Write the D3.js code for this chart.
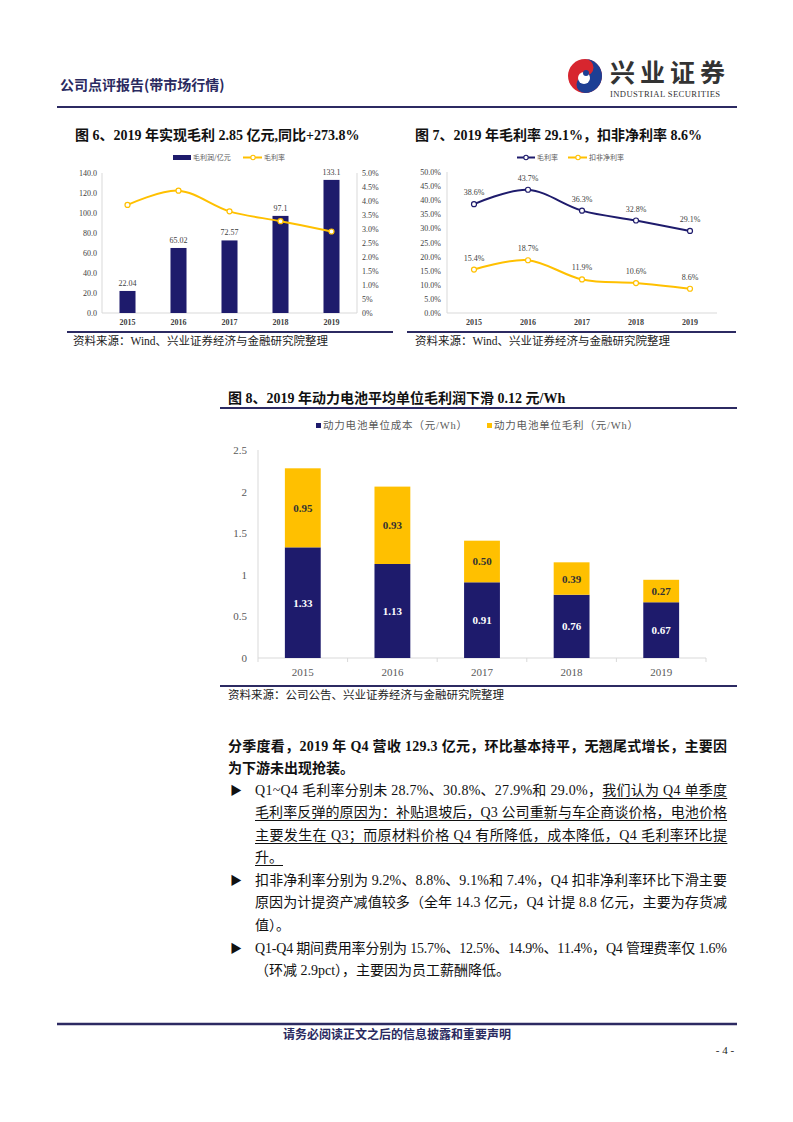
<!DOCTYPE html>
<html><head><meta charset="utf-8">
<script src="https://cdn.jsdelivr.net/npm/d3@7/dist/d3.min.js"></script>
<style>
html,body{margin:0;padding:0;background:#fff;}
#page{position:relative;width:793px;height:1122px;overflow:hidden;}
svg{position:absolute;left:0;top:0;}
.ln{position:absolute;font-family:"Liberation Serif","Noto Sans CJK SC",serif;font-size:14px;color:#111;white-space:nowrap;line-height:16px;}
.b{font-weight:bold;}
u{text-decoration:underline;text-underline-offset:3px;text-decoration-thickness:1px;}
</style></head>
<body><div id="page"></div>
<script>
// ---------- data ----------
const years = ["2015","2016","2017","2018","2019"];
const grossProfit = [22.04, 65.02, 72.57, 97.1, 133.1];
const grossProfitLabels = ["22.04","65.02","72.57","97.1","133.1"];
const fig6Rate = [3.86, 4.37, 3.63, 3.28, 2.91];
const fig6LeftTicks = [0,20,40,60,80,100,120,140];
const fig6RightTickVals = [0,0.5,1,1.5,2,2.5,3,3.5,4,4.5,5];
const fig6RightTickLabels = ["0%","5%","1.0%","1.5%","2.0%","2.5%","3.0%","3.5%","4.0%","4.5%","5.0%"];
const grossMargin = [38.6, 43.7, 36.3, 32.8, 29.1];
const netMargin = [15.4, 18.7, 11.9, 10.6, 8.6];
const fig7Ticks = [0,5,10,15,20,25,30,35,40,45,50];
const unitCost = [1.33, 1.13, 0.91, 0.76, 0.67];
const unitMargin = [0.95, 0.93, 0.50, 0.39, 0.27];
const fig8Ticks = [0,0.5,1,1.5,2,2.5];
const fig8TickLabels = ["0","0.5","1","1.5","2","2.5"];

const NAVY = "#1e1b6c", GOLD = "#ffc000", RULE = "#2c2a62", AX = "#d9d9d9", TXT = "#404040";
const SERIF = "'Liberation Serif','Noto Sans CJK SC',serif";
const CJK = "'Noto Sans CJK SC',sans-serif";

const page = d3.select("#page");
const svg = page.append("svg").attr("width",793).attr("height",1122);
svg.append("rect").attr("width",793).attr("height",1122).attr("fill","#fff");

function txt(x,y,s,o={}){
  const t = svg.append("text").attr("x",x).attr("y",y).text(s)
    .attr("font-family",o.ff||SERIF).attr("font-size",o.fs||10)
    .attr("fill",o.fill||"#222").attr("text-anchor",o.anchor||"start");
  if(o.fw) t.attr("font-weight",o.fw);
  if(o.ls) t.attr("letter-spacing",o.ls);
  return t;
}
function hline(x1,x2,y,c,w){svg.append("line").attr("x1",x1).attr("x2",x2).attr("y1",y).attr("y2",y).attr("stroke",c).attr("stroke-width",w);}
function vline(x,y1,y2,c,w){svg.append("line").attr("x1",x).attr("x2",x).attr("y1",y1).attr("y2",y2).attr("stroke",c).attr("stroke-width",w);}

// ---------- header ----------
txt(60,90,"公司点评报告(带市场行情)",{ff:CJK,fs:14,fw:"bold",fill:"#2a2a60"});
const lg = svg.append("g").attr("transform","translate(585,76)");
lg.append("circle").attr("r",17).attr("fill","#d7262f");
lg.append("path").attr("d","M0,-17 A17,17 0 0 1 0,17 A8.5,8.5 0 0 1 0,0 A8.5,8.5 0 0 0 0,-17Z").attr("fill","#1d3f94");
lg.append("circle").attr("r",6).attr("cx",-1).attr("cy",2).attr("fill","#fff");
lg.append("circle").attr("r",3).attr("cx",1).attr("cy",-3).attr("fill","#1d3f94");
txt(610,82,"兴业证券",{ff:CJK,fs:25,fw:"bold",fill:"#333",ls:5});
txt(610,97,"INDUSTRIAL SECURITIES",{fs:8.6,fill:"#333",ls:0.4});
hline(57,737,107,RULE,2);

// ---------- Figure 6 ----------
txt(75,140,"图 6、2019 年实现毛利 2.85 亿元,同比+273.8%",{fs:14,fw:"bold",fill:"#111"});
{
  const x = d3.scaleBand().domain(years).range([102,357]).paddingInner(0.686).paddingOuter(0.343);
  const yL = d3.scaleLinear().domain([0,140]).range([313,173]);
  const yR = d3.scaleLinear().domain([0,5]).range([313,173]);
  vline(102,173,313,AX,1); vline(357,173,313,AX,1); hline(102,357,313,AX,1);
  fig6LeftTicks.forEach(v=>txt(97,yL(v)+3,v.toFixed(1),{fs:8,anchor:"end",fill:TXT}));
  fig6RightTickVals.forEach((v,i)=>txt(362,yR(v)+3,fig6RightTickLabels[i],{fs:8,fill:TXT}));
  years.forEach((yr,i)=>{
    svg.append("rect").attr("x",x(yr)).attr("y",yL(grossProfit[i])).attr("width",x.bandwidth())
      .attr("height",yL(0)-yL(grossProfit[i])).attr("fill",NAVY);
    txt(x(yr)+x.bandwidth()/2,yL(grossProfit[i])-5,grossProfitLabels[i],{fs:8,anchor:"middle",fill:TXT});
    txt(x(yr)+x.bandwidth()/2,325,yr,{fs:8,anchor:"middle",fill:TXT,fw:"bold"});
  });
  const cx = yr=>x(yr)+x.bandwidth()/2;
  const line = d3.line().x((d,i)=>cx(years[i])).y(d=>yR(d)).curve(d3.curveCardinal.tension(0));
  svg.append("path").attr("d",line(fig6Rate)).attr("fill","none").attr("stroke",GOLD).attr("stroke-width",2);
  fig6Rate.forEach((v,i)=>svg.append("circle").attr("cx",cx(years[i])).attr("cy",yR(v)).attr("r",2.5).attr("fill","#fff").attr("stroke",GOLD).attr("stroke-width",1.2));
  svg.append("rect").attr("x",173).attr("y",155).attr("width",18).attr("height",5).attr("fill",NAVY);
  txt(193,160,"毛利润/亿元",{ff:CJK,fs:7,fill:"#595959"});
  hline(243,262,157.5,GOLD,2);
  svg.append("circle").attr("cx",253).attr("cy",157.5).attr("r",2.2).attr("fill","#fff").attr("stroke",GOLD).attr("stroke-width",1.1);
  txt(264,160,"毛利率",{ff:CJK,fs:7,fill:"#595959"});
}
hline(67,393,332,RULE,2);
txt(73,345,"资料来源：Wind、兴业证券经济与金融研究院整理",{fs:11.5,fill:"#222"});

// ---------- Figure 7 ----------
txt(415,140,"图 7、2019 年毛利率 29.1%，扣非净利率 8.6%",{fs:14,fw:"bold",fill:"#111"});
{
  const x = d3.scaleBand().domain(years).range([447,717]);
  const y = d3.scaleLinear().domain([0,50]).range([313,172]);
  vline(447,172,313,AX,1); hline(447,717,313,AX,1);
  fig7Ticks.forEach(v=>txt(441,y(v)+3,v.toFixed(1)+"%",{fs:8,anchor:"end",fill:TXT}));
  const cx = yr=>x(yr)+x.bandwidth()/2;
  years.forEach(yr=>txt(cx(yr),325,yr,{fs:8,anchor:"middle",fill:TXT,fw:"bold"}));
  const line = d3.line().x((d,i)=>cx(years[i])).y(d=>y(d)).curve(d3.curveCardinal.tension(0));
  [[grossMargin,NAVY],[netMargin,GOLD]].forEach(([arr,c])=>{
    svg.append("path").attr("d",line(arr)).attr("fill","none").attr("stroke",c).attr("stroke-width",2);
    arr.forEach((v,i)=>{
      svg.append("circle").attr("cx",cx(years[i])).attr("cy",y(v)).attr("r",2.5).attr("fill","#fff").attr("stroke",c).attr("stroke-width",1.2);
      txt(cx(years[i]),y(v)-9,v.toFixed(1)+"%",{fs:8,anchor:"middle",fill:TXT});
    });
  });
  hline(517,535,157.5,NAVY,2);
  svg.append("circle").attr("cx",526).attr("cy",157.5).attr("r",2.2).attr("fill","#fff").attr("stroke",NAVY).attr("stroke-width",1.1);
  txt(537,160,"毛利率",{ff:CJK,fs:7,fill:"#595959"});
  hline(568,587,157.5,GOLD,2);
  svg.append("circle").attr("cx",578).attr("cy",157.5).attr("r",2.2).attr("fill","#fff").attr("stroke",GOLD).attr("stroke-width",1.1);
  txt(589,160,"扣非净利率",{ff:CJK,fs:7,fill:"#595959"});
}
hline(407,736,332,RULE,2);
txt(415,345,"资料来源：Wind、兴业证券经济与金融研究院整理",{fs:11.5,fill:"#222"});

// ---------- Figure 8 ----------
txt(228,403,"图 8、2019 年动力电池平均单位毛利润下滑 0.12 元/Wh",{fs:14,fw:"bold",fill:"#111"});
hline(220,737,408,RULE,2);
{
  const x = d3.scaleBand().domain(years).range([258,706]).paddingInner(0.6).paddingOuter(0.3);
  const y = d3.scaleLinear().domain([0,2.5]).range([658,450]);
  vline(258,450,658,AX,1); hline(258,706,658,AX,1);
  const step = x.step();
  for(let i=0;i<=5;i++) vline(258+i*step,658,662,AX,1);
  fig8Ticks.forEach((v,i)=>txt(247,y(v)+4,fig8TickLabels[i],{fs:11,anchor:"end",fill:"#595959"}));
  years.forEach((yr,i)=>{
    const bx = x(yr), bw = x.bandwidth(), c = bx+bw/2;
    const top1 = y(unitCost[i]), top2 = y(unitCost[i]+unitMargin[i]);
    svg.append("rect").attr("x",bx).attr("y",top1).attr("width",bw).attr("height",y(0)-top1).attr("fill",NAVY);
    svg.append("rect").attr("x",bx).attr("y",top2).attr("width",bw).attr("height",top1-top2).attr("fill",GOLD);
    txt(c,(top1+y(0))/2+4,unitCost[i].toFixed(2),{fs:11,fw:"bold",anchor:"middle",fill:"#fff"});
    txt(c,(top1+top2)/2+4,unitMargin[i].toFixed(2),{fs:11,fw:"bold",anchor:"middle",fill:"#333"});
    txt(c,676,yr,{fs:11,anchor:"middle",fill:"#595959"});
  });
  svg.append("rect").attr("x",316).attr("y",423).attr("width",5).attr("height",5).attr("fill",NAVY);
  txt(323,429,"动力电池单位成本（元/Wh）",{ff:SERIF,fs:10.5,fill:"#595959",ls:0.8});
  svg.append("rect").attr("x",487).attr("y",423).attr("width",5).attr("height",5).attr("fill",GOLD);
  txt(494,429,"动力电池单位毛利（元/Wh）",{ff:SERIF,fs:10.5,fill:"#595959",ls:0.8});
}
hline(220,737,686,RULE,2);
txt(228,699,"资料来源：公司公告、兴业证券经济与金融研究院整理",{fs:11.5,fill:"#222"});

// ---------- body text ----------
const lines = [
  {x:228,w:499,y:739,html:"分季度看，2019 年 Q4 营收 129.3 亿元，环比基本持平，无翘尾式增长，主要因",cls:"b",j:true},
  {x:228,w:499,y:761,html:"为下游未出现抢装。",cls:"b"},
  {x:255,w:472,y:783,html:"Q1~Q4 毛利率分别未 28.7%、30.8%、27.9%和 29.0%，<u>我们认为 Q4 单季度</u>",j:true,bullet:true},
  {x:255,w:472,y:805,html:"<u>毛利率反弹的原因为：补贴退坡后，Q3 公司重新与车企商谈价格，电池价格</u>",j:true},
  {x:255,w:472,y:828,html:"<u>主要发生在 Q3；而原材料价格 Q4 有所降低，成本降低，Q4 毛利率环比提</u>",j:true},
  {x:255,w:472,y:850,html:"<u>升。</u>"},
  {x:255,w:472,y:873,html:"扣非净利率分别为 9.2%、8.8%、9.1%和 7.4%，Q4 扣非净利率环比下滑主要",j:true,bullet:true},
  {x:255,w:472,y:895,html:"原因为计提资产减值较多（全年 14.3 亿元，Q4 计提 8.8 亿元，主要为存货减",j:true},
  {x:255,w:472,y:918,html:"值）。"},
  {x:255,w:472,y:941,html:"Q1-Q4 期间费用率分别为 15.7%、12.5%、14.9%、11.4%，Q4 管理费率仅 1.6%",j:true,bullet:true},
  {x:255,w:472,y:963,html:"（环减 2.9pct），主要因为员工薪酬降低。"}
];
lines.forEach(l=>{
  const d = page.append("div").attr("class","ln "+(l.cls||"")).style("left",l.x+"px").style("top",l.y+"px").html(l.html);
  if(l.j){
    const el = d.node();
    const nat = el.getBoundingClientRect().width;
    const n = el.textContent.length;
    const ls = (l.w - nat)/(n-1);
    d.style("letter-spacing",ls+"px");
    // correct residual
    const w2 = el.getBoundingClientRect().width - ls; // trailing spacing excluded
    const ls2 = ls + (l.w - w2)/(n-1);
    d.style("letter-spacing",ls2+"px");
  }
  if(l.bullet) page.append("div").attr("class","ln").style("left","230px").style("top",(l.y)+"px").style("font-size","12px").text("▶");
});

// ---------- footer ----------
hline(57,737,1024,RULE,2.5);
txt(397,1039,"请务必阅读正文之后的信息披露和重要声明",{ff:CJK,fs:12,fw:"bold",fill:"#2a2a60",anchor:"middle"});
txt(725,1054,"- 4 -",{fs:11,anchor:"middle",fill:"#222"});
</script></body></html>
